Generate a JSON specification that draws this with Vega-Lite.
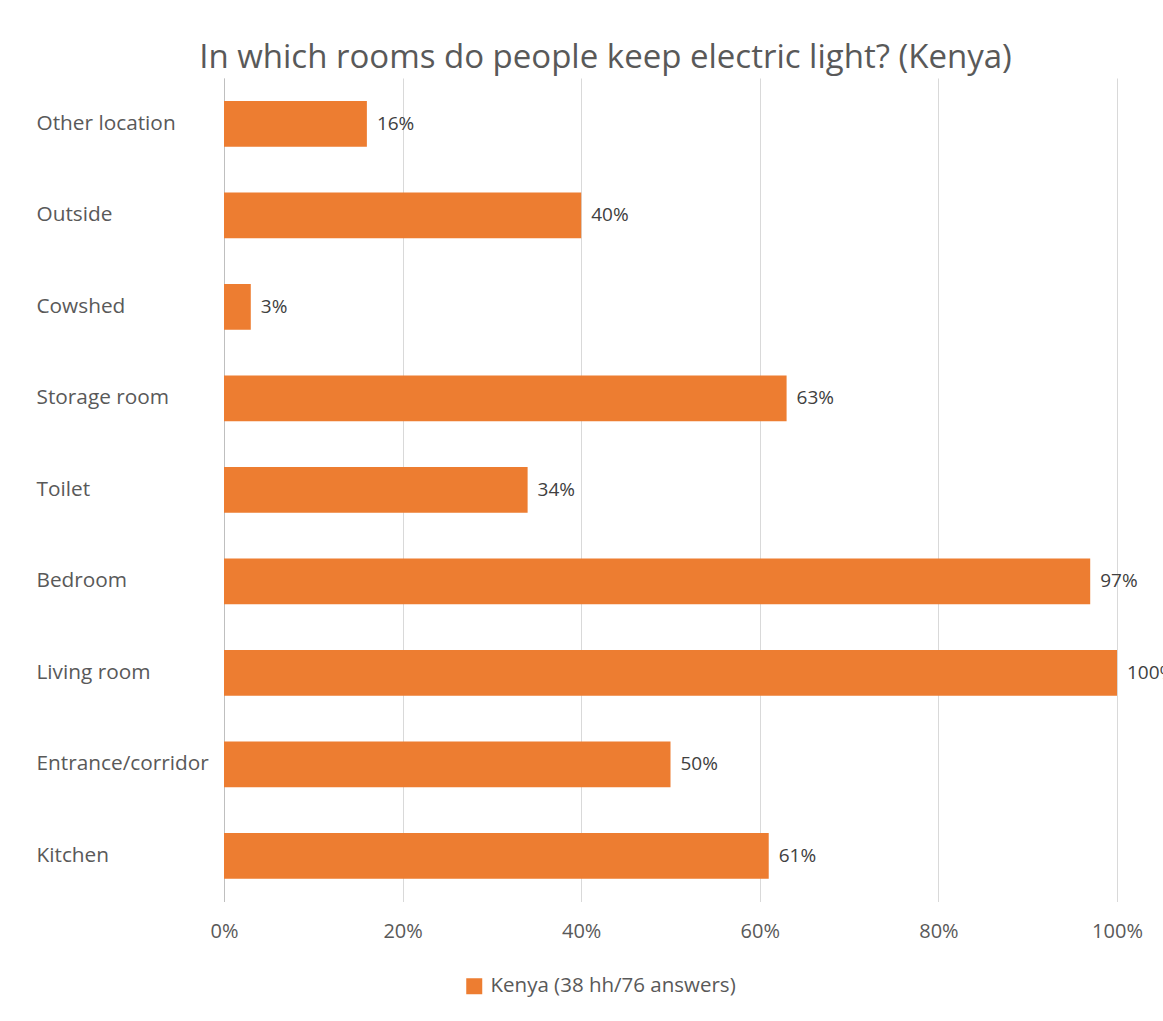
{
  "$schema": "https://vega.github.io/schema/vega-lite/v6.json",
  "autosize": {"type": "none"},
  "width": 893,
  "height": 823.5,
  "padding": {"left": 224, "top": 78, "right": 46, "bottom": 119.5},
  "background": "white",
  "title": {
    "text": "In which rooms do people keep electric light? (Kenya)",
    "anchor": "middle",
    "dx": -65,
    "dy": 31,
    "offset": 8,
    "baseline": "alphabetic",
    "font": "Open Sans",
    "fontSize": 33,
    "fontWeight": "normal",
    "color": "#595959"
  },
  "data": {
    "values": [
      {"room": "Other location", "pct": 0.16, "series": "Kenya (38 hh/76 answers)"},
      {"room": "Outside", "pct": 0.40, "series": "Kenya (38 hh/76 answers)"},
      {"room": "Cowshed", "pct": 0.03, "series": "Kenya (38 hh/76 answers)"},
      {"room": "Storage room", "pct": 0.63, "series": "Kenya (38 hh/76 answers)"},
      {"room": "Toilet", "pct": 0.34, "series": "Kenya (38 hh/76 answers)"},
      {"room": "Bedroom", "pct": 0.97, "series": "Kenya (38 hh/76 answers)"},
      {"room": "Living room", "pct": 1.00, "series": "Kenya (38 hh/76 answers)"},
      {"room": "Entrance/corridor", "pct": 0.50, "series": "Kenya (38 hh/76 answers)"},
      {"room": "Kitchen", "pct": 0.61, "series": "Kenya (38 hh/76 answers)"}
    ]
  },
  "encoding": {
    "y": {
      "field": "room",
      "type": "nominal",
      "sort": null,
      "scale": {"paddingInner": 0.5, "paddingOuter": 0.25},
      "axis": {
        "title": null,
        "ticks": false,
        "domain": true,
        "domainColor": "#BFBFBF",
        "domainWidth": 1,
        "labelAlign": "left",
        "labelPadding": 188,
        "labelFont": "Open Sans",
        "labelFontSize": 20.8,
        "labelLimit": 0,
        "labelColor": "#595959",
        "grid": false
      }
    },
    "x": {
      "field": "pct",
      "type": "quantitative",
      "scale": {"domain": [0, 1], "nice": false},
      "axis": {
        "title": null,
        "format": ".0%",
        "values": [0, 0.2, 0.4, 0.6, 0.8, 1],
        "ticks": false,
        "domain": false,
        "grid": true,
        "gridColor": "#D9D9D9",
        "gridWidth": 1,
        "labelFlush": false,
        "labelOverlap": false,
        "labelPadding": 20,
        "labelFont": "Open Sans",
        "labelFontSize": 20,
        "labelColor": "#595959"
      }
    }
  },
  "layer": [
    {
      "mark": {"type": "bar"},
      "encoding": {
        "color": {
          "field": "series",
          "type": "nominal",
          "scale": {"range": ["#ED7D31"]},
          "legend": {
            "title": null,
            "orient": "none",
            "legendX": 240,
            "legendY": 898,
            "padding": 0,
            "symbolType": "square",
            "symbolSize": 256,
            "symbolStrokeWidth": 0,
            "labelFont": "Open Sans",
            "labelFontSize": 20.5,
            "labelLimit": 0,
            "labelColor": "#595959",
            "labelOffset": 6
          }
        }
      }
    },
    {
      "mark": {
        "type": "text",
        "align": "left",
        "baseline": "middle",
        "dx": 10,
        "font": "Open Sans",
        "fontSize": 19,
        "color": "#404040"
      },
      "encoding": {
        "text": {"field": "pct", "type": "quantitative", "format": ".0%"}
      }
    }
  ],
  "config": {
    "view": {"stroke": null}
  }
}
